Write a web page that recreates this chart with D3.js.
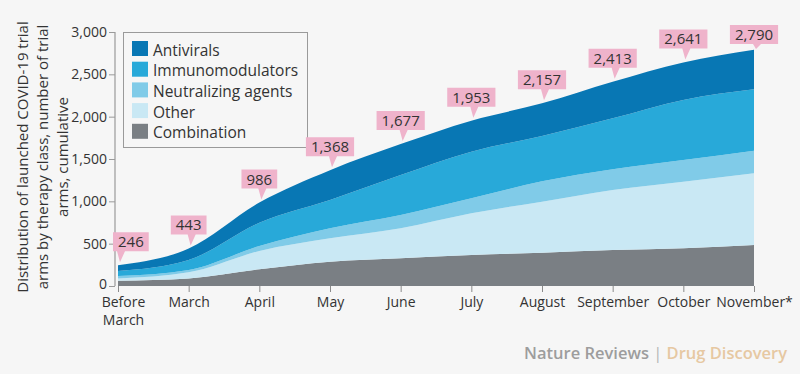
<!DOCTYPE html>
<html><head><meta charset="utf-8">
<script src="https://cdn.jsdelivr.net/npm/d3@7"></script>
<style>
html,body{margin:0;padding:0;background:#f6f6f6;}
svg{display:block;font-family:"Open Sans",sans-serif;}
</style></head>
<body>
<svg id="c" width="800" height="374"></svg>
<script>
const months = ["Before March","March","April","May","June","July","August","September","October","November*"];
const totals = [246,443,986,1368,1677,1953,2157,2413,2641,2790];
const antivirals = [69,136,239,352,366,367,385,433,444,467];
const immunomodulators = [59,118,275,335,473,550,536,601,709,725];
const neutralizing = [28,28,59,118,157,178,240,245,256,267];
const other = [27,71,216,276,354,492,602,709,787,847];
const combination = [63,90,197,287,327,366,394,425,445,484];
const yTicks = [0,500,1000,1500,2000,2500,3000];
const seriesNames = ["Combination","Other","Neutralizing agents","Immunomodulators","Antivirals"];
const seriesColors = ["#7a7f84","#c9e8f4","#80cbe8","#28a9d9","#0877b4"];
const legendOrder = ["Antivirals","Immunomodulators","Neutralizing agents","Other","Combination"];

const rows = months.map((m,i)=>({month:m,"Combination":combination[i],"Other":other[i],"Neutralizing agents":neutralizing[i],"Immunomodulators":immunomodulators[i],"Antivirals":antivirals[i]}));

const svg = d3.select("#c");
const x = d3.scalePoint().domain(months).range([118,754]);
const y = d3.scaleLinear().domain([0,3000]).range([286,32]);
const color = d3.scaleOrdinal().domain(seriesNames).range(seriesColors);

const stack = d3.stack().keys(seriesNames)(rows);
const area = d3.area().x(d=>x(d.data.month)).y0(d=>y(d[0])).y1(d=>y(d[1])).curve(d3.curveMonotoneX);
svg.append("g").selectAll("path").data(stack).join("path")
  .attr("d",area).attr("fill",d=>color(d.key));

// y axis
const yAxis = svg.append("g").attr("transform","translate(115,0)")
  .call(d3.axisLeft(y).tickValues(yTicks).tickFormat(d3.format(",")).tickSize(6).tickPadding(2));
yAxis.select(".domain").attr("stroke","#9a9a9a").attr("stroke-width",1.2).attr("d","M0,32V286");
yAxis.selectAll(".tick line").attr("stroke","#9a9a9a");
yAxis.selectAll("text").attr("fill","#333").attr("font-size",14).attr("font-family","Open Sans")
  .attr("dy",(d)=>d===0?"0.2em":"0.32em");

// x axis
const xAxis = svg.append("g").attr("transform","translate(0,286)")
  .call(d3.axisBottom(x).tickSize(6).tickPadding(5));
xAxis.select(".domain").remove();
xAxis.selectAll(".tick line").attr("stroke","#8a8a8a");
xAxis.selectAll(".tick text").attr("fill","#333").attr("font-size",14).attr("font-family","Open Sans")
  .each(function(d){
    const t = d3.select(this);
    if(d==="Before March"){
      t.text(null);
      t.append("tspan").attr("x",5).attr("dy","0.71em").text("Before");
      t.append("tspan").attr("x",5).attr("dy","1.3em").text("March");
    }
  });

// y title
const tl = ["Distribution of launched COVID-19 trial","arms by therapy class, number of trial","arms, cumulative"];
svg.append("g").selectAll("text").data(tl).join("text")
  .attr("transform",(d,i)=>`translate(${28+i*20},157) rotate(-90)`)
  .attr("text-anchor","middle").attr("font-size",15).attr("fill","#333").text(d=>d);

// legend
const lg = svg.append("g");
lg.append("rect").attr("x",123.5).attr("y",32.5).attr("width",184).attr("height",115)
  .attr("fill","#f6f6f6").attr("stroke","#9a9a9a");
legendOrder.forEach((k,i)=>{
  lg.append("rect").attr("x",132).attr("y",41+i*20.7).attr("width",16).attr("height",15).attr("fill",color(k));
  lg.append("text").attr("x",153).attr("y",55.5+i*20.7).attr("font-size",15.5).attr("fill","#333").text(k);
});

// total labels
const fmt = d3.format(",");
const lab = svg.append("g");
totals.forEach((v,i)=>{
  const px = x(months[i]), py = y(v);
  const g = lab.append("g");
  const t = g.append("text").attr("font-size",15).attr("fill","#333").attr("text-anchor","middle").text(fmt(v));
  const w = t.node().getComputedTextLength()+10;
  const h = 19;
  let bx = Math.max(113, px - w/2);
  let by = Math.max(25, py - 33);
  const bottom = by + h;
  g.insert("path","text").attr("fill","#efb3cb")
    .attr("d",`M${bx},${by}H${bx+w}V${bottom}H${px+7}L${px+2},${Math.max(bottom+5,py-3)}L${px-1},${bottom}H${bx}Z`);
  t.attr("x",bx+w/2).attr("y",by+15);
});

// footer
const ft = svg.append("text").attr("x",787).attr("y",359).attr("text-anchor","end")
  .attr("font-size",16.5).attr("font-weight",600);
ft.append("tspan").attr("fill","#9d9d9d").text("Nature Reviews ");
ft.append("tspan").attr("fill","#b5b5b5").attr("font-weight",400).text("| ");
ft.append("tspan").attr("fill","#e6c8a2").text("Drug Discovery");
</script>
</body></html>
